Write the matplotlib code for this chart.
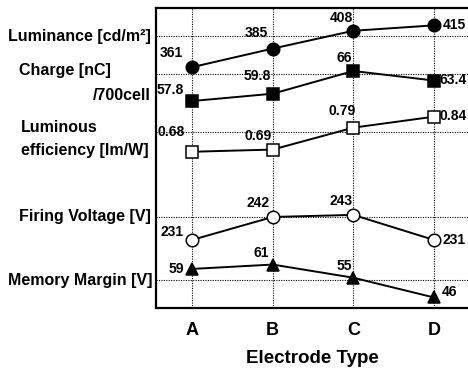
import matplotlib.pyplot as plt

plt.rcParams['font.family'] = ['Liberation Sans', 'DejaVu Sans']
plt.rcParams['font.weight'] = 'bold'

# data
electrodes = ['A', 'B', 'C', 'D']
luminance = [361, 385, 408, 415]
charge = [57.8, 59.8, 66, 63.4]
efficiency = [0.68, 0.69, 0.79, 0.84]
firing = [231, 242, 243, 231]
memory = [59, 61, 55, 46]

lum_lbl = ['361', '385', '408', '415']
chg_lbl = ['57.8', '59.8', '66', '63.4']
eff_lbl = ['0.68', '0.69', '0.79', '0.84']
fir_lbl = ['231', '242', '243', '231']
mem_lbl = ['59', '61', '55', '46']

W, H = 468, 380
fig = plt.figure(figsize=(W / 100, H / 100), dpi=100)
ax = fig.add_axes([156 / W, 1 - 308 / H, 1 - 156 / W, 300 / H])
x = list(range(len(electrodes)))
ax.set_xlim(-0.4465, 3.422)
ax.set_ylim(0, 1)

# grid
for xi in x:
    ax.axvline(xi, color='black', lw=0.8, ls=(0, (1, 1.2)), zorder=0)
for gy in [0.907, 0.78, 0.587, 0.303, 0.093]:
    ax.axhline(gy, color='black', lw=0.8, ls=(0, (1, 1.2)), zorder=0)

ax.set_yticks([])
ax.set_xticks(x)
ax.set_xticklabels(electrodes, fontsize=13, fontweight='bold')
ax.tick_params(axis='x', length=0, pad=10)
ax.set_xlabel('Electrode Type', fontsize=13.5, fontweight='bold', labelpad=8)
for s in ['left', 'top', 'bottom']:
    ax.spines[s].set_linewidth(1.6)
ax.spines['right'].set_visible(False)

series = [
    (luminance, lum_lbl, (50.1, 437.4), 'o', 'black',
     [(-21, 14), (-16, 16), (-12, 13), (20, 0)]),
    (charge, chg_lbl, (1.3, 83.2), 's', 'black',
     [(-22, 11), (-15, 18), (-9, 13), (19, 1)]),
    (efficiency, eff_lbl, (-0.033, 1.336), 's', 'white',
     [(-21, 20), (-15, 14), (-11, 17), (19, 1)]),
    (firing, fir_lbl, (198.4, 342.1), 'o', 'white',
     [(-20, 8), (-15, 14), (-12, 14), (20, 0)]),
    (memory, mem_lbl, (41.2, 177.9), '^', 'black',
     [(-16, 0), (-11, 12), (-9, 12), (16, 5)]),
]

for vals, lbls, lim, mk, fc, offs in series:
    tw = ax.twinx()
    tw.set_ylim(*lim)
    tw.axis('off')
    tw.plot(x, vals, color='black', lw=1.4, marker=mk, markersize=9,
            markerfacecolor=fc, markeredgecolor='black', markeredgewidth=1.1,
            clip_on=False)
    for xi, v, t, (dx, dy) in zip(x, vals, lbls, offs):
        tw.annotate(t, (xi, v), xytext=(dx, dy), textcoords='offset pixels',
                    ha='center', va='center', fontsize=10, fontweight='bold',
                    annotation_clip=False)

# row labels on the left
def ftext(px, py, s, ha):
    fig.text(px / W, 1 - py / H, s, ha=ha, va='center', fontsize=11.5,
             fontweight='bold')

ftext(151, 36, 'Luminance [cd/m²]', 'right')
ftext(19, 70, 'Charge [nC]', 'left')
ftext(151, 95, '/700cell', 'right')
ftext(21, 127, 'Luminous', 'left')
ftext(21, 150, 'efficiency [lm/W]', 'left')
ftext(151, 217, 'Firing Voltage [V]', 'right')
ftext(153, 280, 'Memory Margin [V]', 'right')

fig.savefig('out.png', dpi=100)
